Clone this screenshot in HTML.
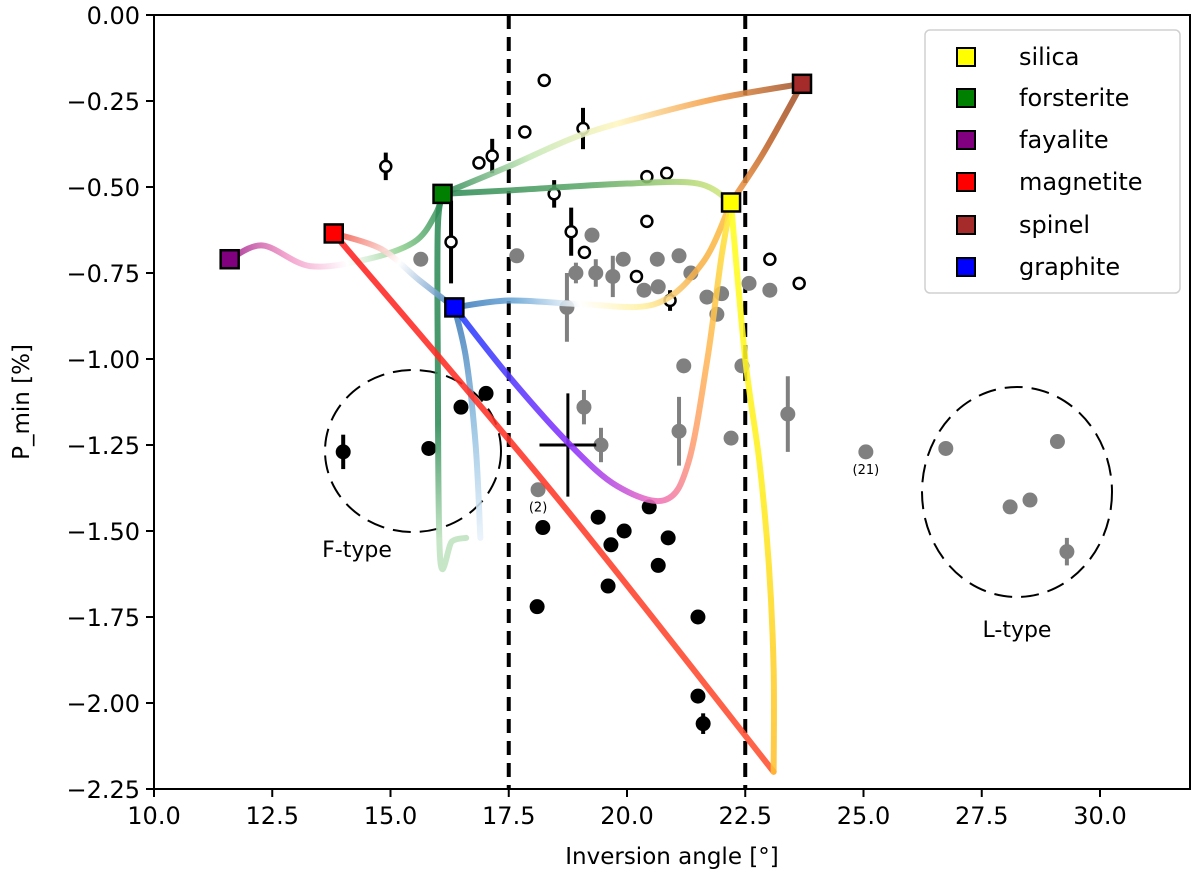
<!DOCTYPE html>
<html><head><meta charset="utf-8">
<style>
html,body{margin:0;padding:0;background:#fff;}
svg{display:block;font-family:"DejaVu Sans","Liberation Sans",sans-serif;}
</style></head>
<body>
<svg id="chart" width="1200" height="886" viewBox="0 0 1200 886">
<defs id="defs"></defs>
<g id="plot"></g>
</svg>
<script>
// ---- data ----
const blackX = [14.0,15.81,16.49,17.02,18.22,18.1,19.39,19.66,19.94,19.6,20.47,20.87,20.66,21.5,21.5,21.61];
const blackY = [-1.27,-1.26,-1.14,-1.10,-1.49,-1.72,-1.46,-1.54,-1.50,-1.66,-1.43,-1.52,-1.60,-1.75,-1.98,-2.06];
const blackErr = [0.05,0,0,0,0,0,0,0,0,0,0,0,0,0,0,0.03];
const openX = [14.9,16.28,16.87,17.15,17.84,18.25,18.46,18.82,19.1,19.07,20.42,20.84,20.42,20.2,20.91,23.02,23.64];
const openY = [-0.44,-0.66,-0.43,-0.41,-0.34,-0.19,-0.52,-0.63,-0.69,-0.33,-0.47,-0.46,-0.60,-0.76,-0.83,-0.71,-0.78];
const openErr = [0.04,0.12,0,0.05,0,0,0.04,0.07,0,0.06,0,0,0,0,0.03,0,0];
const greyX = [15.64,17.67,18.73,18.92,19.34,19.7,19.26,19.92,20.36,20.66,20.64,21.1,21.35,21.69,21.9,22.0,22.58,23.02,21.2,22.43,19.09,19.45,21.1,22.2,23.4,18.12,25.05,26.74,28.1,28.52,29.1,29.3];
const greyY = [-0.71,-0.70,-0.85,-0.75,-0.75,-0.76,-0.64,-0.71,-0.80,-0.79,-0.71,-0.70,-0.75,-0.82,-0.87,-0.81,-0.78,-0.80,-1.02,-1.02,-1.14,-1.25,-1.21,-1.23,-1.16,-1.38,-1.27,-1.26,-1.43,-1.41,-1.24,-1.56];
const greyErr = [0,0.02,0.1,0.03,0.04,0.06,0,0,0,0,0,0,0,0,0,0,0,0,0,0,0.05,0.05,0.1,0,0.11,0,0,0,0,0,0,0.04];
const crossX = [18.75], crossY = [-1.25], crossXErr = [0.6], crossYErr = [0.15];
const materials = ["silica","forsterite","fayalite","magnetite","spinel","graphite"];
const matColors = ["#ffff00","#008000","#800080","#ff0000","#a52a2a","#0000ff"];
const matX = [22.2,16.1,11.6,13.8,23.7,16.35];
const matY = [-0.545,-0.52,-0.71,-0.635,-0.20,-0.85];
const xTicks = [10.0,12.5,15.0,17.5,20.0,22.5,25.0,27.5,30.0];
const yTicks = [0.00,-0.25,-0.50,-0.75,-1.00,-1.25,-1.50,-1.75,-2.00,-2.25];
const vlines = [17.5,22.5];
const curveNames = ["fayalite-forsterite","forsterite-spinel","forsterite-silica","silica-spinel","forsterite-down","magnetite-graphite","graphite-down","graphite-silica","graphite-purple","magnetite-bottom","silica-bottom"];
const curveX = [
 [11.6,12.3,13.3,14.5,15.5,15.95,16.1],
 [16.1,17.5,19.0,20.5,22.0,23.7],
 [16.1,17.5,20.0,21.5,22.2],
 [22.2,22.8,23.3,23.7],
 [16.1,16.0,16.0,16.05,16.3,16.6],
 [13.8,14.8,15.6,16.35],
 [16.35,16.6,16.8,16.9],
 [16.35,17.5,19.0,20.6,21.6,22.2],
 [16.35,17.5,18.8,19.8,20.8,21.3,21.7,22.0,22.2],
 [13.8,18.5,23.1],
 [22.2,22.5,22.8,23.0,23.1,23.1]
];
const curveY = [
 [-0.71,-0.67,-0.73,-0.71,-0.66,-0.58,-0.52],
 [-0.52,-0.44,-0.35,-0.29,-0.24,-0.20],
 [-0.52,-0.51,-0.49,-0.49,-0.545],
 [-0.545,-0.42,-0.30,-0.20],
 [-0.52,-0.62,-1.00,-1.58,-1.53,-1.52],
 [-0.635,-0.68,-0.77,-0.85],
 [-0.85,-1.00,-1.25,-1.52],
 [-0.85,-0.83,-0.84,-0.84,-0.72,-0.545],
 [-0.85,-1.05,-1.25,-1.37,-1.41,-1.30,-1.00,-0.70,-0.55],
 [-0.635,-1.40,-2.20],
 [-0.55,-1.00,-1.30,-1.60,-1.90,-2.20]
];
const curveStops = [
 ["#a0208c","#f29ac8","#ffffff","#8fcf8f","#2e8b57"],
 ["#2e8b57","#c6e8b8","#fff6c0","#f5a04a","#a0522d"],
 ["#2e8b57","#5da86a","#d8ec80"],
 ["#f5a04a","#c0642a","#a0522d"],
 ["#2e8b57","#2e8b57","#2e8b57","#bfe3bf"],
 ["#f05040","#ffffff","#3a78b8"],
 ["#3a78b8","#8fbfe0","#e8f2fb"],
 ["#3a78b8","#6aa6d6","#ffffff","#fff0a0","#f7b04a","#ffc040"],
 ["#2040ff","#8a30ff","#ee70c0","#ffa070","#ffc050","#ffee30"],
 ["#ff2020","#ff5030"],
 ["#ffff20","#ffee20","#ffc030"]
];
// ---- scales ----
const X0=154, PXU=47.3, Y0=15, PYU=344;
function sx(v){return X0+(v-10)*PXU;}
function sy(v){return Y0-v*PYU;}
const NS="http://www.w3.org/2000/svg";
const g=document.getElementById('plot'), defs=document.getElementById('defs');
function el(t,a,p){const e=document.createElementNS(NS,t);for(const k in a)e.setAttribute(k,a[k]);(p||g).appendChild(e);return e;}
function txt(s,a,p){const e=el('text',a,p);e.textContent=s;return e;}

vlines.forEach((v,i)=>{const l=el('line',{x1:sx(v),x2:sx(v),y1:15,y2:789,stroke:'#000','stroke-width':4,'stroke-dasharray':'14,8'});

});

const fe=el('ellipse',{cx:413,cy:451,rx:88,ry:81,fill:'none',stroke:'#000','stroke-width':2,'stroke-dasharray':'18,9'});

const le=el('ellipse',{cx:1017,cy:492,rx:95,ry:105,fill:'none',stroke:'#000','stroke-width':2,'stroke-dasharray':'18,9'});

const ft=txt('F-type',{x:357,y:557,'font-size':22,'text-anchor':'middle',fill:'#000'});

const lt=txt('L-type',{x:1017,y:637,'font-size':22,'text-anchor':'middle',fill:'#000'});


greyX.forEach((x,i)=>{const px=sx(x),py=sy(greyY[i]);
 if(greyErr[i]>0){const e=el('line',{x1:px,x2:px,y1:sy(greyY[i]+greyErr[i]),y2:sy(greyY[i]-greyErr[i]),stroke:'#808080','stroke-width':4});
  }
 const c=el('circle',{cx:px,cy:py,r:7.5,fill:'#808080'});
 });
const l2=txt('(2)',{x:sx(18.12),y:sy(-1.38)+22,'font-size':13,'text-anchor':'middle'});

const l21=txt('(21)',{x:sx(25.05),y:sy(-1.27)+22,'font-size':13,'text-anchor':'middle'});


blackX.forEach((x,i)=>{const px=sx(x),py=sy(blackY[i]);
 if(blackErr[i]>0){const e=el('line',{x1:px,x2:px,y1:sy(blackY[i]+blackErr[i]),y2:sy(blackY[i]-blackErr[i]),stroke:'#000','stroke-width':4});
  }
 const c=el('circle',{cx:px,cy:py,r:7.5,fill:'#000'});
 });

openX.forEach((x,i)=>{const px=sx(x),py=sy(openY[i]);
 if(openErr[i]>0){const e=el('line',{x1:px,x2:px,y1:sy(openY[i]+openErr[i]),y2:sy(openY[i]-openErr[i]),stroke:'#000','stroke-width':4});
  }
 const c=el('circle',{cx:px,cy:py,r:5.5,fill:'#fff',stroke:'#000','stroke-width':2.5});
 });

crossX.forEach((x,i)=>{
 const a=el('line',{x1:sx(x-crossXErr[i]),x2:sx(x+crossXErr[i]),y1:sy(crossY[i]),y2:sy(crossY[i]),stroke:'#000','stroke-width':3});
 
 const b=el('line',{x1:sx(x),x2:sx(x),y1:sy(crossY[i]+crossYErr[i]),y2:sy(crossY[i]-crossYErr[i]),stroke:'#000','stroke-width':3});
 });

function catmull(pts){let d='M'+pts[0][0]+','+pts[0][1];
 for(let i=0;i<pts.length-1;i++){const p0=pts[i-1]||pts[i],p1=pts[i],p2=pts[i+1],p3=pts[i+2]||p2;
  const c1=[p1[0]+(p2[0]-p0[0])/6,p1[1]+(p2[1]-p0[1])/6],c2=[p2[0]-(p3[0]-p1[0])/6,p2[1]-(p3[1]-p1[1])/6];
  d+=' C'+c1[0]+','+c1[1]+' '+c2[0]+','+c2[1]+' '+p2[0]+','+p2[1];}
 return d;}
curveX.forEach((xs,ci)=>{
 const pts=xs.map((x,j)=>[sx(x),sy(curveY[ci][j])]);
 const a=pts[0],b=pts[pts.length-1];
 const gr=el('linearGradient',{id:'cg'+ci,gradientUnits:'userSpaceOnUse',x1:a[0],y1:a[1],x2:b[0],y2:b[1]},defs);
 const st=curveStops[ci];
 st.forEach((c,k)=>el('stop',{offset:(st.length>1?k/(st.length-1):0),'stop-color':c},gr));
 const p=el('path',{d:catmull(pts),fill:'none',stroke:'url(#cg'+ci+')','stroke-width':6,'stroke-opacity':0.88,'stroke-linecap':'round'});
 
 });

matX.forEach((x,i)=>{const r=el('rect',{x:sx(x)-9,y:sy(matY[i])-9,width:18,height:18,fill:matColors[i],stroke:'#000','stroke-width':2.5});
 });

const fr=el('rect',{x:154,y:15,width:1036,height:774,fill:'none',stroke:'#000','stroke-width':2});


xTicks.forEach(v=>{const t=el('line',{x1:sx(v),x2:sx(v),y1:789,y2:797,stroke:'#000','stroke-width':2});
 
 const l=txt(v.toFixed(1),{x:sx(v),y:824,'font-size':24,'text-anchor':'middle'});
 });
yTicks.forEach(v=>{const t=el('line',{x1:146,x2:154,y1:sy(v),y2:sy(v),stroke:'#000','stroke-width':2});
 
 const l=txt(v.toFixed(2).replace('-','\u2212'),{x:140,y:sy(v)+9,'font-size':24,'text-anchor':'end'});
 });
const xt=txt('Inversion angle [°]',{x:672,y:864,'font-size':23,'text-anchor':'middle'});

const yt=txt('P_min [%]',{x:0,y:0,'font-size':23,'text-anchor':'middle',transform:'translate(29,402) rotate(-90)'});


const lg=el('g',{});

el('rect',{x:925,y:30,width:255,height:263,rx:5,fill:'#fff','fill-opacity':0.85,stroke:'#d0d0d0','stroke-width':1.5},lg);
const legY=[57,98,140,182,225,267];
materials.forEach((m,i)=>{
 const r=el('rect',{x:957,y:legY[i]-9,width:18,height:18,fill:matColors[i],stroke:'#000','stroke-width':2},lg);
 
 const t=txt(m,{x:1019,y:legY[i]+8,'font-size':24},lg);
 });
</script>
</body></html>
